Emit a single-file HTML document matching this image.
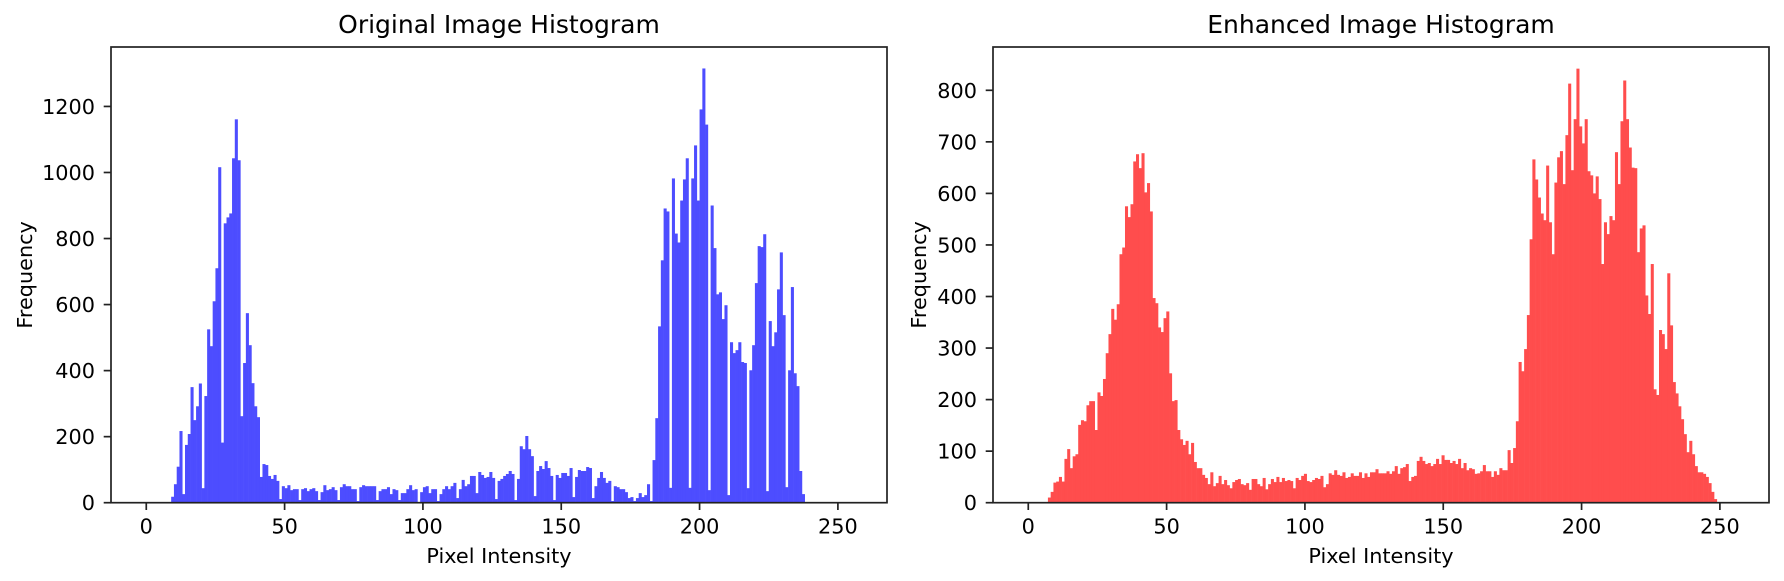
<!DOCTYPE html>
<html><head><meta charset="utf-8"><style>
html,body{margin:0;padding:0;background:#fff;}
svg{display:block;font-family:"DejaVu Sans","Liberation Sans",sans-serif;}
</style></head><body>
<svg id="fig" width="1784" height="581" viewBox="0 0 1784 581" xmlns="http://www.w3.org/2000/svg">
<rect width="1784" height="581" fill="#fff"/>
<g id="left"></g>
<g id="right"></g>
</svg>
<script>
const origCounts = [0,0,0,0,0,0,0,0,0,18,56,109,217,26,175,208,350,250,292,361,44,323,525,474,610,710,1016,182,846,864,876,1043,1161,1037,262,423,574,477,362,292,259,78,117,114,81,72,84,66,11,50,44,53,38,41,41,8,41,44,35,41,44,35,8,32,53,
38,41,47,38,8,47,56,50,50,41,41,5,47,53,50,50,50,50,8,35,41,41,47,26,41,38,8,29,29,41,53,38,41,2,32,47,50,29,41,41,5,26,41,50,41,50,60,14,41,69,50,56,81,81,29,93,84,75,78,93,75,11,66,72,81,87,96,87,8,72,171,162,202,162,141,20,96,111,102,126,105,81,8,84,75,90,90,81,105,17,78,99,96,96,108,105,14,50,75,93,75,60,66,5,50,47,41,41,32,14,17,5,14,29,17,
23,56,5,129,
256,534,734,891,882,45,982,815,788,915,979,1043,45,982,1082,915,1191,1315,1145,38,900,771,631,637,556,598,23,486,453,462,486,426,423,44,401,477,665,777,774,813,35,550,474,516,646,758,568,47,401,653,392,353,96,26];
const enhCounts = [10,21,39,41,50,41,85,104,67,90,94,151,160,158,189,197,197,141,214,207,240,290,327,376,355,385,482,495,575,554,579,662,676,649,678,602,620,565,397,387,340,331,358,371,251,197,199,141,123,112,120,94,116,79,67,67,54,48,36,59,32,
38,52,36,44,34,28,40,44,46,36,34,38,25,46,46,36,32,48,26,36,46,40,50,40,48,42,44,42,28,48,44,52,56,42,40,44,48,46,52,30,36,57,54,63,54,52,59,48,50,57,52,52,59,48,57,50,59,59,65,57,57,57,61,56,61,71,56,67,69,75,42,50,52,81,89,81,75,77,71,75,85,75,92,83,83,77,81,75,85,67,77,63,67,65,56,57,61,73,61,61,50,61,54,67,63,
63,102,77,106,158,273,255,298,364,511,666,627,592,561,548,654,544,482,621,670,682,618,713,813,645,744,842,730,697,744,643,635,600,633,589,463,544,521,
556,548,680,618,740,819,744,689,650,649,486,532,538,402,366,463,220,209,335,327,298,445,344,234,212,187,162,133,98,120,94,71,59,59,56,50,38,21,7];
const xTicks = [0,50,100,150,200,250];
const origYTicks = [0,200,400,600,800,1000,1200];
const enhYTicks = [0,100,200,300,400,500,600,700,800];
const origBinStart = 0, origBinWidth = 1;
const enhBinStart = 7.1, enhBinWidth = 0.995;

const NS = "http://www.w3.org/2000/svg";
function mk(tag, attrs, parent){const e=document.createElementNS(NS,tag);for(const k in attrs)e.setAttribute(k,attrs[k]);parent.appendChild(e);return e;}

function panel(g, cfg){
  const L=cfg.left, R=L+776, T=47, B=502.7;
  const xs=v=>L+(v+12.75)*(R-L)/280.5;
  const ys=v=>B-v*(B-T)/cfg.ymax;
  cfg.counts.forEach((c,i)=>{
    if(c<=0) return;
    const x0=xs(cfg.start+i*cfg.w), x1=xs(cfg.start+(i+1)*cfg.w);
    const r=mk('rect',{x:x0,y:ys(c),width:x1-x0+0.3,height:B-ys(c),fill:cfg.color},g);
    
    
  });
  xTicks.forEach(t=>{
    const x=xs(t);
    const l=mk('line',{x1:x,x2:x,y1:B,y2:B+7.3,stroke:'#222','stroke-width':1.7},g);
    
    
    const tx=mk('text',{x:x,y:B+31,'text-anchor':'middle','font-size':20.8,fill:'#000'},g);
    
    
    tx.textContent=t;
  });
  cfg.yticks.forEach(t=>{
    const y=ys(t);
    const l=mk('line',{x1:L-7.3,x2:L,y1:y,y2:y,stroke:'#222','stroke-width':1.7},g);
    
    
    const tx=mk('text',{x:L-16,y:y+7.5,'text-anchor':'end','font-size':20.8,fill:'#000'},g);
    
    
    tx.textContent=t;
  });
  const sp=mk('rect',{x:L,y:T,width:R-L,height:B-T,fill:'none',stroke:'#222','stroke-width':1.7},g);
  
  
  const ti=mk('text',{x:(L+R)/2,y:33,'text-anchor':'middle','font-size':25,fill:'#000'},g);
  
  
  ti.textContent=cfg.title;
  const xl=mk('text',{x:(L+R)/2,y:563,'text-anchor':'middle','font-size':20.8,fill:'#000'},g);
  
  
  xl.textContent='Pixel Intensity';
  const yx=cfg.ylabelX, yy=(T+B)/2;
  const yl=mk('text',{x:yx,y:yy,'text-anchor':'middle','font-size':20.8,fill:'#000',transform:`rotate(-90 ${yx} ${yy})`},g);
  
  
  yl.textContent='Frequency';
}
panel(document.getElementById('left'),{left:111,ymax:1380,counts:origCounts,start:origBinStart,w:origBinWidth,color:'#4d4dff',yticks:origYTicks,title:'Original Image Histogram',ylabelX:32});
panel(document.getElementById('right'),{left:993,ymax:884,counts:enhCounts,start:enhBinStart,w:enhBinWidth,color:'#ff4d4d',yticks:enhYTicks,title:'Enhanced Image Histogram',ylabelX:926});
</script>
</body></html>
